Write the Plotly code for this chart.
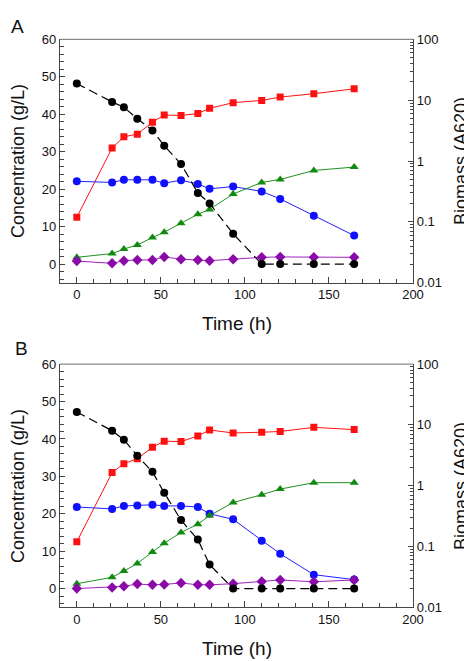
import plotly.graph_objects as go

time_h = [0, 21, 28, 36, 45, 52, 62, 72, 79, 93, 110, 121, 141, 165]

black_a = [48.2, 43.3, 41.9, 38.8, 35.7, 31.6, 26.7, 19.0, 16.2, 8.1, 0, 0, 0, 0]
red_a = [12.5, 31.0, 34.0, 34.7, 37.9, 39.8, 39.7, 40.2, 41.6, 43.1, 43.7, 44.6, 45.5, 46.8]
blue_a = [22.1, 21.8, 22.5, 22.5, 22.5, 21.6, 22.4, 21.4, 20.1, 20.7, 19.4, 17.4, 12.9, 7.6]
green_a = [1.8, 2.8, 4.0, 5.1, 7.1, 8.5, 10.9, 13.3, 14.6, 18.7, 21.8, 22.6, 25.0, 25.9]
purple_a = [0.8, 0.2, 0.9, 1.1, 1.1, 1.9, 1.3, 1.1, 0.9, 1.3, 1.8, 1.9, 1.8, 1.8]

black_b = [47.2, 42.2, 39.8, 35.5, 31.2, 25.6, 18.3, 13.1, 6.4, 0, 0, 0, 0, 0]
red_b = [12.5, 31.0, 33.4, 34.7, 37.8, 39.4, 39.3, 40.8, 42.4, 41.6, 41.8, 42.0, 43.1, 42.5]
blue_b = [21.8, 21.3, 22.1, 22.2, 22.4, 22.1, 22.1, 21.8, 20.0, 18.5, 12.8, 9.3, 3.7, 2.4]
green_b = [1.3, 3.0, 4.7, 6.7, 9.8, 12.1, 15.0, 17.2, 19.5, 23.0, 25.1, 26.6, 28.3, 28.3]
purple_b = [0, 0.3, 0.6, 1.2, 1.0, 1.1, 1.5, 1.0, 1.0, 1.3, 1.9, 2.3, 1.8, 2.3]

right_tickvals = [0.01, 0.1, 1, 10, 100]
right_ticktext = ["0.01", "0.1", "1", "10", "100"]

FONT = "Liberation Sans, Arial, sans-serif"
AX = "#444444"

fig = go.Figure()

def add_panel(xa, ya, ya2, black, red, blue, green, purple):
    fig.add_trace(go.Scatter(x=time_h, y=red, xaxis=xa, yaxis=ya, mode="lines+markers",
                             line=dict(color="#ff1010", width=1),
                             marker=dict(symbol="square", size=7, color="#ff1010"), showlegend=False))
    fig.add_trace(go.Scatter(x=time_h, y=blue, xaxis=xa, yaxis=ya, mode="lines+markers",
                             line=dict(color="#2020ff", width=1),
                             marker=dict(symbol="circle", size=8, color="#1010ff"), showlegend=False))
    fig.add_trace(go.Scatter(x=time_h, y=green, xaxis=xa, yaxis=ya, mode="lines+markers",
                             line=dict(color="#209020", width=1),
                             marker=dict(symbol="triangle-up", size=8, color="#108a10"), showlegend=False))
    fig.add_trace(go.Scatter(x=time_h, y=purple, xaxis=xa, yaxis=ya, mode="lines+markers",
                             line=dict(color="#a020c0", width=1),
                             marker=dict(symbol="diamond", size=8, color="#8a0aa8"), showlegend=False))
    fig.add_trace(go.Scatter(x=time_h, y=black, xaxis=xa, yaxis=ya, mode="lines+markers",
                             line=dict(color="black", width=1.2, dash="9px,5px"),
                             marker=dict(symbol="circle", size=8, color="black"), showlegend=False))
    fig.add_trace(go.Scatter(x=[], y=[], xaxis=xa, yaxis=ya2, showlegend=False))

add_panel("x", "y", "y2", black_a, red_a, blue_a, green_a, purple_a)
add_panel("x2", "y3", "y4", black_b, red_b, blue_b, green_b, purple_b)

tickfont = dict(family=FONT, size=13, color="#111")

def xaxis_cfg(anchor):
    return dict(domain=[0, 1], anchor=anchor, range=[-10, 200], tickvals=[0, 50, 100, 150, 200],
                ticks="inside", ticklen=6, tickcolor=AX, showline=True, linecolor=AX, linewidth=1.2,
                showgrid=False, zeroline=False, tickfont=tickfont,
                minor=dict(dtick=10, tick0=0, ticks="inside", ticklen=4, tickcolor=AX, showgrid=False))

def yleft_cfg(anchor, dom):
    return dict(domain=dom, anchor=anchor, range=[-5, 60], tickvals=[0, 10, 20, 30, 40, 50, 60],
                ticks="inside", ticklen=5, tickcolor=AX, showline=True, linecolor=AX, linewidth=1.2,
                showgrid=False, zeroline=False, tickfont=tickfont,
                minor=dict(dtick=2, tick0=0, ticks="inside", ticklen=4, tickcolor=AX, showgrid=False))

def yright_cfg(anchor, over):
    return dict(overlaying=over, anchor=anchor, side="right", type="log", range=[-2, 2],
                tickvals=right_tickvals, ticktext=right_ticktext,
                ticks="inside", ticklen=5, tickcolor=AX, showline=True, linecolor=AX, linewidth=1.2,
                showgrid=False, zeroline=False, tickfont=tickfont,
                minor=dict(dtick="D1", ticks="inside", ticklen=3, tickcolor=AX, showgrid=False))

domA = [0.5855, 0.9622]
domB = [0.0832, 0.4595]

fig.update_layout(
    width=472, height=661,
    margin=dict(l=52, r=67, t=0, b=0),
    paper_bgcolor="white", plot_bgcolor="white",
    xaxis=xaxis_cfg("y"),
    xaxis2=xaxis_cfg("y3"),
    yaxis=yleft_cfg("x", domA),
    yaxis2=yright_cfg("x", "y"),
    yaxis3=yleft_cfg("x2", domB),
    yaxis4=yright_cfg("x2", "y3"),
)

# top frame lines
for xr, yr in [("x domain", "y domain"), ("x2 domain", "y3 domain")]:
    fig.add_shape(type="line", xref=xr, yref=yr, x0=0, x1=1, y0=1, y1=1,
                  line=dict(color="#8a8a8a", width=1.2))

title_font = dict(family=FONT, size=19, color="#111")
side_font = dict(family=FONT, size=18, color="#111")
H = 661.0
W = 353.0
def py(pix):
    return 1 - pix / H
def px(pix):
    return (pix - 52) / W

annots = [
    dict(text="A", x=px(1), y=py(12), xref="paper", yref="paper", showarrow=False,
         font=dict(family=FONT, size=19, color="#111"), xanchor="left", yanchor="middle"),
    dict(text="B", x=px(5), y=py(341), xref="paper", yref="paper", showarrow=False,
         font=dict(family=FONT, size=19, color="#111"), xanchor="left", yanchor="middle"),
]
for cy, tx in [(149.5, 316), (482, 648)]:
    annots.append(dict(text="Concentration (g/L)", x=px(10), y=py(cy), xref="paper", yref="paper",
                       showarrow=False, textangle=-90, font=side_font, xanchor="center", yanchor="middle"))
    annots.append(dict(text="Biomass (A620)", x=px(453), y=py(cy), xref="paper", yref="paper",
                       showarrow=False, textangle=-90, font=side_font, xanchor="center", yanchor="middle"))
    annots.append(dict(text="Time (h)", x=0.5, y=py(tx), xref="paper", yref="paper",
                       showarrow=False, font=title_font, xanchor="center", yanchor="middle"))
fig.update_layout(annotations=annots)

fig.write_html("out.html")
